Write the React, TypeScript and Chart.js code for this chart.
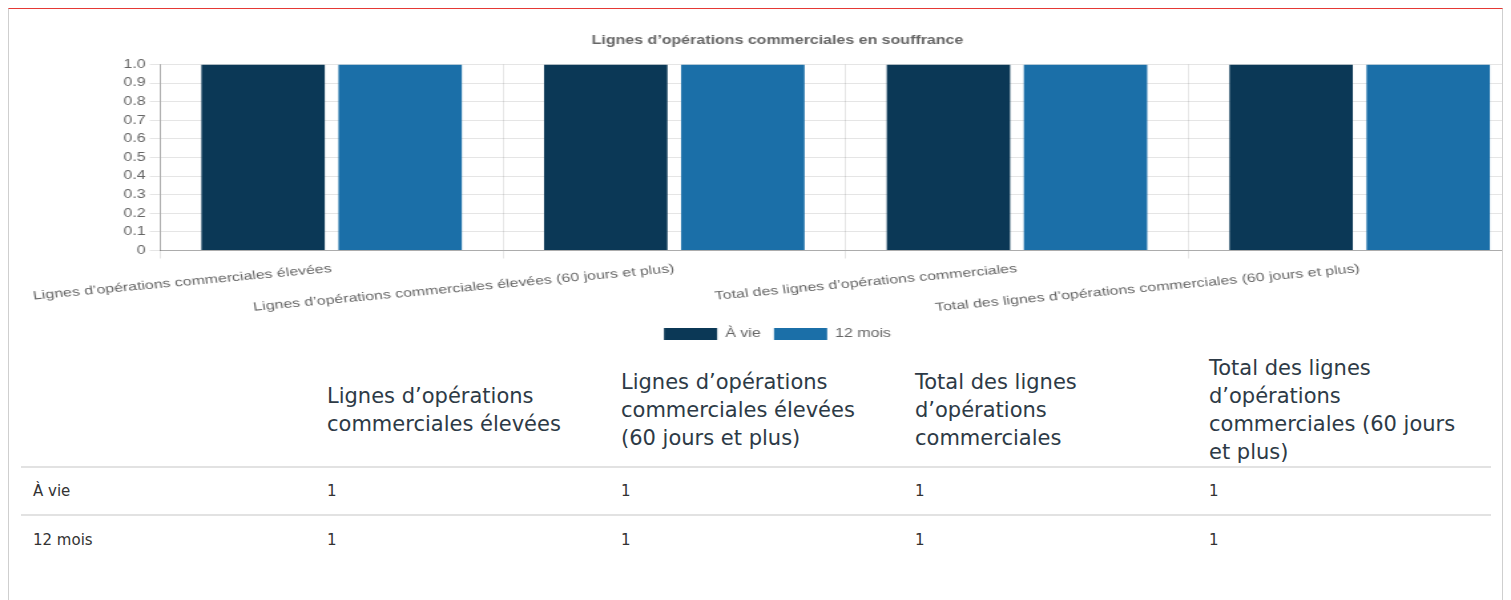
import React, { useEffect, useRef } from "react";
import { Chart, registerables } from "chart.js";

Chart.register(...registerables);

const chartTitle = "Lignes d’opérations commerciales en souffrance";
const categories = [
  "Lignes d’opérations commerciales élevées",
  "Lignes d’opérations commerciales élevées (60 jours et plus)",
  "Total des lignes d’opérations commerciales",
  "Total des lignes d’opérations commerciales (60 jours et plus)",
];
const seriesNames = ["À vie", "12 mois"];
const lifetimeValues = [1, 1, 1, 1];
const twelveMonthValues = [1, 1, 1, 1];
const seriesColors = ["#0b3856", "#1b6fa8"];
const yTickLabels = ["0", "0.1", "0.2", "0.3", "0.4", "0.5", "0.6", "0.7", "0.8", "0.9", "1.0"];

const tableHeaders = [
  "Lignes d’opérations commerciales élevées",
  "Lignes d’opérations commerciales élevées (60 jours et plus)",
  "Total des lignes d’opérations commerciales",
  "Total des lignes d’opérations commerciales (60 jours et plus)",
];

const CANVAS_W = 1133;
const CANVAS_H = 327;
const CSS_W = 1507;

export default function App() {
  const ref = useRef<HTMLCanvasElement | null>(null);

  useEffect(() => {
    if (!ref.current) return;
    Chart.defaults.font.family = "Arial, 'Liberation Sans', sans-serif";
    Chart.defaults.color = "#666";
    const chart = new Chart(ref.current, {
      type: "bar",
      data: {
        labels: categories,
        datasets: [
          { label: seriesNames[0], data: lifetimeValues, backgroundColor: seriesColors[0] },
          { label: seriesNames[1], data: twelveMonthValues, backgroundColor: seriesColors[1] },
        ],
      },
      options: {
        animation: false,
        responsive: false,
        devicePixelRatio: 1,
        layout: { padding: 0 },
        plugins: {
          title: {
            display: true,
            text: chartTitle,
            color: "#666",
            font: { size: 12, weight: "bold" },
            padding: { top: 10, bottom: 17 },
          },
          legend: {
            position: "bottom",
            labels: { boxWidth: 40, boxHeight: 12, color: "#666", font: { size: 12 } },
          },
          tooltip: { enabled: false },
        },
        scales: {
          x: {
            grid: { color: "rgba(0,0,0,0.1)", offset: true, tickLength: 8 },
            border: { color: "rgba(0,0,0,0.25)" },
            ticks: {
              color: "#666",
              font: { size: 12 },
              autoSkip: false,
              minRotation: 7,
              maxRotation: 7,
            },
          },
          y: {
            min: 0,
            max: 1,
            grid: { color: "rgba(0,0,0,0.1)", tickLength: 8 },
            border: { color: "rgba(0,0,0,0.25)" },
            ticks: {
              stepSize: 0.1,
              color: "#666",
              font: { size: 12 },
              callback: (_v: any, i: number) => yTickLabels[i],
            },
          },
        },
      },
    });
    return () => chart.destroy();
  }, []);

  const thStyle: React.CSSProperties = {
    fontWeight: "normal",
    fontSize: "21px",
    lineHeight: "28px",
    textAlign: "left",
    verticalAlign: "middle",
    padding: "0 20px 0 12px",
    color: "#2d3a46",
    borderBottom: "2px solid #e2e2e2",
  };
  const tdStyle: React.CSSProperties = {
    fontSize: "15px",
    lineHeight: "22px",
    padding: "12px 12px",
    color: "#333",
    textAlign: "left",
  };

  return (
    <div
      style={{
        borderTop: "1px solid #e53935",
        borderLeft: "1px solid #cfcfcf",
        borderRight: "1px solid #cfcfcf",
        overflow: "hidden",
        height: 600,
        boxSizing: "border-box",
        fontFamily: "'DejaVu Sans', sans-serif",
      }}
    >
      <canvas
        ref={ref}
        width={CANVAS_W}
        height={CANVAS_H}
        style={{ display: "block", width: CSS_W, height: CANVAS_H, margin: "14px 0 0 15px" }}
      />
      <table
        style={{
          borderCollapse: "collapse",
          tableLayout: "fixed",
          width: 1470,
          margin: "4px 0 0 12px",
        }}
      >
        <thead>
          <tr style={{ height: 111 }}>
            <th style={thStyle}></th>
            {tableHeaders.map((h) => (
              <th key={h} style={thStyle}>{h}</th>
            ))}
          </tr>
        </thead>
        <tbody>
          <tr style={{ borderBottom: "2px solid #e2e2e2" }}>
            <td style={tdStyle}>{seriesNames[0]}</td>
            {lifetimeValues.map((v, i) => (
              <td key={i} style={tdStyle}>{v}</td>
            ))}
          </tr>
          <tr>
            <td style={{ ...tdStyle, paddingTop: 13 }}>{seriesNames[1]}</td>
            {twelveMonthValues.map((v, i) => (
              <td key={i} style={{ ...tdStyle, paddingTop: 13 }}>{v}</td>
            ))}
          </tr>
        </tbody>
      </table>
    </div>
  );
}
